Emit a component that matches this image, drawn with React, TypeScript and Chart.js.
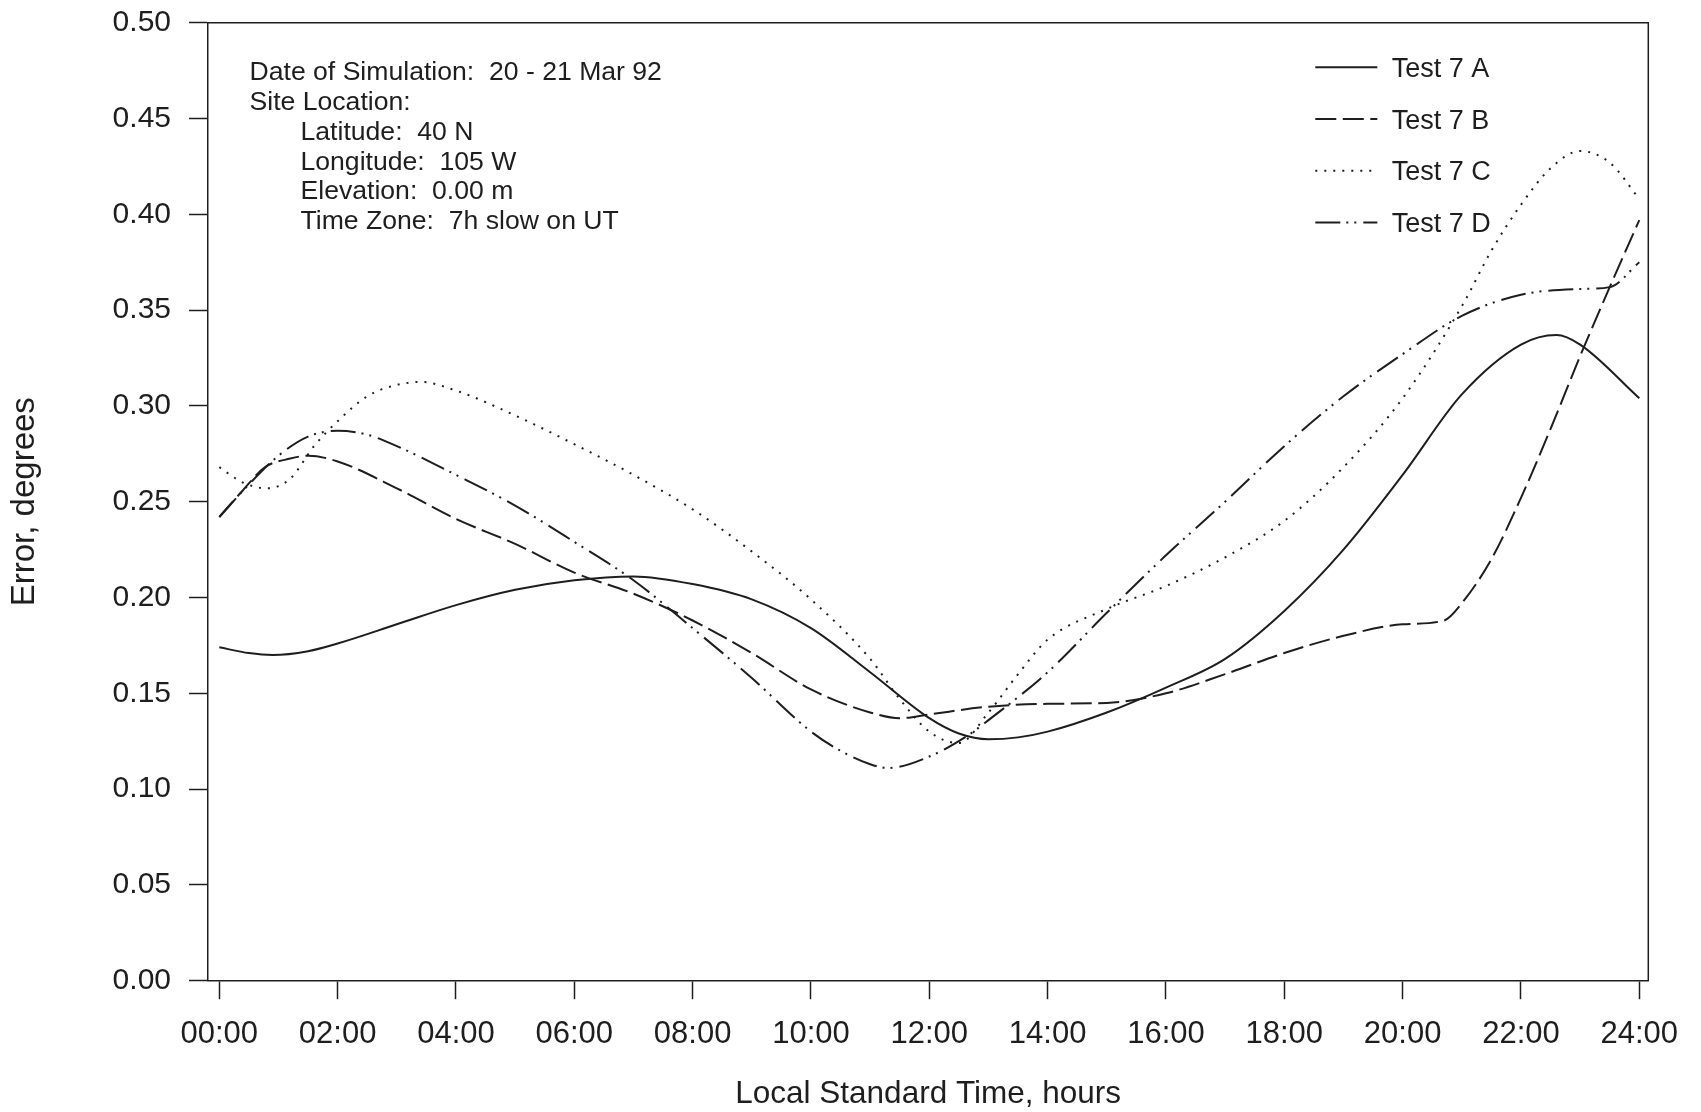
import { useEffect, useRef } from "react";
import { Chart, registerables } from "chart.js";

Chart.register(...registerables);

const FONT = '"Liberation Sans", Arial, Helvetica, sans-serif';
const INK = "#1e1e1e";

// ---- data ----
const seriesNames = ["Test 7 A", "Test 7 B", "Test 7 C", "Test 7 D"];

const hoursA = [0, 0.5, 0.9, 1.5, 2, 3, 4, 5, 6, 7, 8, 9, 10, 11, 12, 12.5, 13, 13.5, 14, 15, 16, 17, 18, 19, 20, 21, 22, 22.6, 23, 24];
const valuesA = [0.174, 0.171, 0.170, 0.172, 0.176, 0.186, 0.196, 0.204, 0.209, 0.211, 0.207, 0.199, 0.184, 0.161, 0.137, 0.129, 0.126, 0.127, 0.130, 0.140, 0.153, 0.168, 0.193, 0.225, 0.264, 0.306, 0.332, 0.337, 0.332, 0.304];

const hoursB = [0, 0.4, 0.77, 1.2, 1.5, 2, 3, 4, 5, 6, 7, 8, 9, 10, 11, 11.5, 12, 13, 14, 15, 16, 17, 18, 19, 20, 20.7, 21, 21.5, 22, 22.5, 23, 23.5, 24];
const valuesB = [0.242, 0.256, 0.268, 0.2725, 0.274, 0.271, 0.257, 0.241, 0.228, 0.213, 0.202, 0.188, 0.171, 0.152, 0.140, 0.137, 0.139, 0.143, 0.1445, 0.145, 0.150, 0.160, 0.171, 0.180, 0.186, 0.188, 0.197, 0.220, 0.252, 0.288, 0.326, 0.362, 0.397];

const hoursC = [0, 0.4, 0.8, 1.2, 1.6, 2, 2.5, 3, 3.4, 4, 5, 6, 7, 8, 9, 10, 11, 11.5, 12, 12.5, 13, 13.5, 14, 15, 16, 17, 18, 19, 20, 21, 21.5, 22, 22.5, 23, 23.5, 24];
const valuesC = [0.268, 0.260, 0.257, 0.262, 0.279, 0.292, 0.305, 0.311, 0.3125, 0.308, 0.295, 0.280, 0.264, 0.246, 0.224, 0.199, 0.168, 0.147, 0.130, 0.124, 0.140, 0.160, 0.178, 0.194, 0.206, 0.221, 0.240, 0.268, 0.304, 0.352, 0.381, 0.405, 0.424, 0.433, 0.427, 0.408];

const hoursD = [0, 0.5, 1, 1.5, 2, 2.5, 3, 4, 5, 6, 7, 8, 9, 10, 10.5, 11, 11.3, 12, 12.65, 13, 14, 15, 16, 17, 18, 19, 20, 21, 22, 23, 23.5, 24];
const valuesD = [0.242, 0.259, 0.274, 0.284, 0.287, 0.285, 0.279, 0.264, 0.248, 0.229, 0.209, 0.184, 0.158, 0.130, 0.120, 0.113, 0.111, 0.117, 0.128, 0.136, 0.161, 0.192, 0.222, 0.250, 0.279, 0.305, 0.327, 0.347, 0.358, 0.361, 0.362, 0.375];

const xTickHours = [0, 2, 4, 6, 8, 10, 12, 14, 16, 18, 20, 22, 24];
const xTickLabels = ["00:00", "02:00", "04:00", "06:00", "08:00", "10:00", "12:00", "14:00", "16:00", "18:00", "20:00", "22:00", "24:00"];
const yTickValues = [0, 0.05, 0.1, 0.15, 0.2, 0.25, 0.3, 0.35, 0.4, 0.45, 0.5];
const yTickLabels = ["0.00", "0.05", "0.10", "0.15", "0.20", "0.25", "0.30", "0.35", "0.40", "0.45", "0.50"];

const infoHeader = ["Date of Simulation:  20 - 21 Mar 92", "Site Location:"];
const infoDetails = ["Latitude:  40 N", "Longitude:  105 W", "Elevation:  0.00 m", "Time Zone:  7h slow on UT"];

const xTitle = "Local Standard Time, hours";
const yTitle = "Error, degrees";

// ---- helpers ----
const toPoints = (hs: number[], vs: number[]) => hs.map((h, i) => ({ x: h, y: vs[i] }));

const dashes: number[][] = [[], [21, 6.5], [2, 7], [25, 6, 2, 6, 2, 7]];

const boxAndNotes = {
  id: "boxAndNotes",
  afterDraw(chart: any) {
    const { ctx, chartArea: a } = chart;
    ctx.save();
    // top and right frame
    ctx.strokeStyle = INK;
    ctx.lineWidth = 1.5;
    ctx.setLineDash([]);
    ctx.beginPath();
    ctx.moveTo(a.left, a.top);
    ctx.lineTo(a.right, a.top);
    ctx.lineTo(a.right, a.bottom);
    ctx.stroke();

    // info text
    ctx.fillStyle = INK;
    ctx.font = `26.6px ${FONT}`;
    ctx.textAlign = "left";
    ctx.textBaseline = "alphabetic";
    const lineStep = 29.8;
    const base0 = a.top + 57.5;
    infoHeader.forEach((t, i) => ctx.fillText(t, a.left + 41.5, base0 + i * lineStep));
    infoDetails.forEach((t, i) =>
      ctx.fillText(t, a.left + 92.5, base0 + (infoHeader.length + i) * lineStep)
    );

    // legend
    ctx.font = `27px ${FONT}`;
    chart.data.datasets.forEach((ds: any, i: number) => {
      const y = a.top + 44.6 + i * 51.7;
      ctx.save();
      ctx.strokeStyle = ds.borderColor;
      ctx.lineWidth = 2;
      ctx.setLineDash(ds.borderDash || []);
      ctx.beginPath();
      ctx.moveTo(a.right - 333, y);
      ctx.lineTo(a.right - 271, y);
      ctx.stroke();
      ctx.restore();
      ctx.fillText(ds.label, a.right - 256.5, y + 9.6);
    });
    ctx.restore();
  },
};

export default function App() {
  const ref = useRef<HTMLCanvasElement | null>(null);

  useEffect(() => {
    if (!ref.current) return;
    const series = [
      toPoints(hoursA, valuesA),
      toPoints(hoursB, valuesB),
      toPoints(hoursC, valuesC),
      toPoints(hoursD, valuesD),
    ];
    const chart = new Chart(ref.current, {
      type: "line",
      data: {
        datasets: series.map((pts, i) => ({
          label: seriesNames[i],
          data: pts,
          borderColor: INK,
          borderWidth: 2,
          borderDash: dashes[i],
          pointRadius: 0,
          fill: false,
          cubicInterpolationMode: "monotone" as const,
        })),
      },
      options: {
        responsive: false,
        animation: false,
        devicePixelRatio: 1,
        layout: { padding: { top: 22.7, right: 52.7, bottom: 0, left: 0 } },
        plugins: {
          legend: { display: false },
          tooltip: { enabled: false },
          title: { display: false },
        },
        scales: {
          x: {
            type: "linear",
            min: -0.191,
            max: 24.152,
            afterBuildTicks: (scale: any) => {
              scale.ticks = xTickHours.map((v) => ({ value: v }));
            },
            afterFit: (scale: any) => {
              scale.height = 131.3;
              scale.paddingLeft = 0;
              scale.paddingRight = 0;
            },
            ticks: {
              autoSkip: false,
              maxRotation: 0,
              minRotation: 0,
              padding: 16.5,
              color: INK,
              font: { family: FONT, size: 31 },
              callback: (_v: any, i: number) => xTickLabels[i],
            },
            grid: {
              drawOnChartArea: false,
              drawTicks: true,
              tickLength: 18.5,
              tickColor: INK,
              tickWidth: 1.5,
              color: INK,
            },
            border: { display: true, color: INK, width: 1.5 },
            title: {
              display: true,
              text: xTitle,
              color: INK,
              font: { family: FONT, size: 31.5, lineHeight: 1 },
              padding: { top: 0, bottom: 2 },
            },
          },
          y: {
            type: "linear",
            min: 0,
            max: 0.5,
            afterBuildTicks: (scale: any) => {
              scale.ticks = yTickValues.map((v) => ({ value: v }));
            },
            afterFit: (scale: any) => {
              scale.width = 208;
              scale.paddingTop = 0;
              scale.paddingBottom = 0;
            },
            ticks: {
              autoSkip: false,
              padding: 18,
              color: INK,
              font: { family: FONT, size: 30 },
              callback: (_v: any, i: number) => yTickLabels[i],
            },
            grid: {
              drawOnChartArea: false,
              drawTicks: true,
              tickLength: 19,
              tickColor: INK,
              tickWidth: 1.5,
              color: INK,
            },
            border: { display: true, color: INK, width: 1.5 },
            title: {
              display: true,
              text: yTitle,
              color: INK,
              font: { family: FONT, size: 33, lineHeight: 1.2 },
              padding: { top: 5, bottom: 0 },
            },
          },
        },
      },
      plugins: [boxAndNotes],
    } as any);
    return () => chart.destroy();
  }, []);

  return (
    <div style={{ position: "fixed", left: 0, top: 0, width: 1701, height: 1112, background: "#fff" }}>
      <canvas ref={ref} width={1701} height={1112} style={{ display: "block", width: 1701, height: 1112 }} />
    </div>
  );
}
